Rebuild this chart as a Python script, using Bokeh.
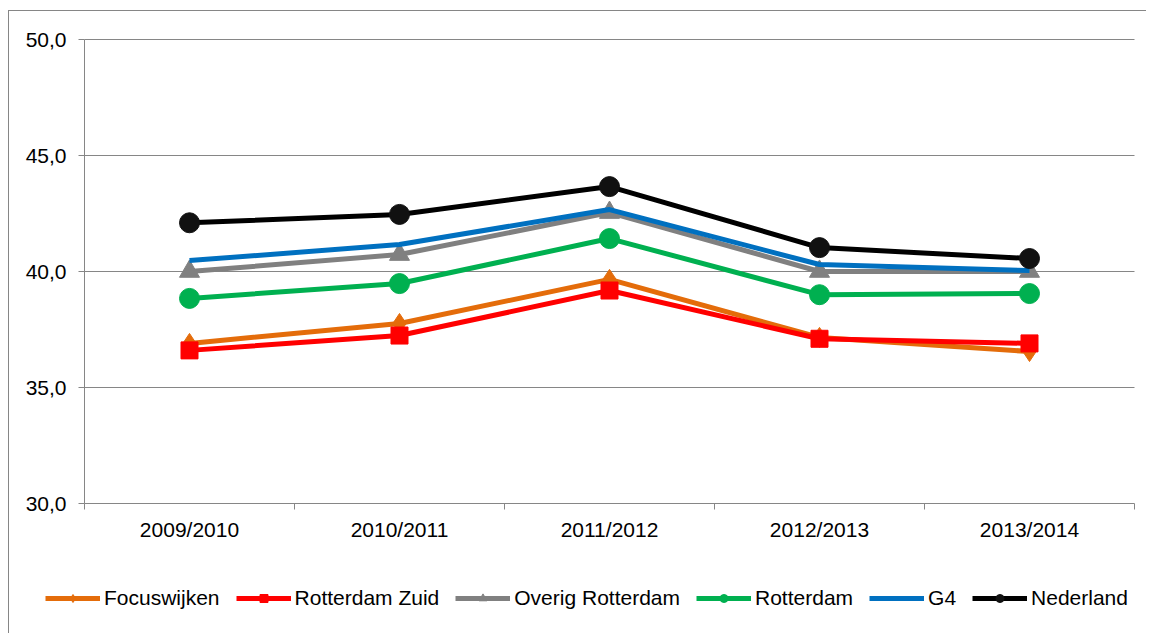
from bokeh.plotting import figure
from bokeh.models import Range1d, FixedTicker, Legend, LegendItem, LinearAxis
from bokeh.embed import file_html
from bokeh.resources import INLINE

categories = ["2009/2010", "2010/2011", "2011/2012", "2012/2013", "2013/2014"]
focuswijken = [36.9, 37.76, 39.66, 37.16, 36.55]
rotterdam_zuid = [36.6, 37.24, 39.18, 37.1, 36.9]
overig_rotterdam = [40.0, 40.73, 42.54, 40.0, 40.0]
rotterdam = [38.84, 39.48, 41.42, 39.0, 39.05]
g4 = [40.47, 41.16, 42.67, 40.3, 40.04]
nederland = [42.1, 42.46, 43.66, 41.03, 40.56]
y_ticks = [30, 35, 40, 45, 50]

FONT = "Liberation Sans"
FS = "21px"
GRID = "#868686"

n = len(categories)
x = [i + 0.5 for i in range(n)]
ymin, ymax = y_ticks[0], y_ticks[-1]

W, H = 1138, 623
# frame covers the whole figure; axis area inside it
px_x = 1050 / n
px_y = 464 / (ymax - ymin)
x_start = 0 - 75 / px_x
x_end = n + 13 / px_x
y_end = ymax + 28 / px_y
y_start = ymin - 131 / px_y

p = figure(width=W, height=H, output_backend="svg", toolbar_location=None,
           x_range=Range1d(x_start, x_end), y_range=Range1d(y_start, y_end),
           min_border=0, x_axis_location=None, y_axis_location=None)
p.styles = {"border-left": "1px solid #868686", "border-top": "1px solid #868686",
            "margin-top": "10px", "margin-left": "8px"}
p.outline_line_color = None
p.background_fill_color = "white"
p.border_fill_color = "white"
p.xgrid.grid_line_color = None
p.ygrid.grid_line_color = None

# horizontal gridlines across the category span
grid_y = y_ticks[1:]
p.segment(x0=[0] * len(grid_y), x1=[n] * len(grid_y), y0=grid_y, y1=grid_y,
          line_color=GRID, line_width=1)

xaxis = LinearAxis(fixed_location=ymin, bounds=(0, n))
xaxis.ticker = FixedTicker(ticks=x, minor_ticks=list(range(n + 1)))
xaxis.major_label_overrides = {xi: c for xi, c in zip(x, categories)}
xaxis.major_tick_out = 0
xaxis.major_tick_in = 0
xaxis.minor_tick_out = 6
xaxis.minor_tick_in = 0
xaxis.minor_tick_line_color = GRID
xaxis.axis_line_color = GRID
xaxis.major_label_standoff = 8

yaxis = LinearAxis(fixed_location=0, bounds=(ymin, ymax))
yaxis.ticker = FixedTicker(ticks=y_ticks)
yaxis.major_label_overrides = {t: f"{t:.1f}".replace(".", ",") for t in y_ticks}
yaxis.major_tick_out = 6
yaxis.major_tick_in = 0
yaxis.minor_tick_out = 0
yaxis.minor_tick_in = 0
yaxis.major_tick_line_color = GRID
yaxis.axis_line_color = GRID
yaxis.major_label_standoff = 12

for ax in (xaxis, yaxis):
    ax.major_label_text_font = FONT
    ax.major_label_text_font_size = FS
    ax.major_label_text_color = "black"

p.add_layout(xaxis, "below")
p.add_layout(yaxis, "left")

series = [
    ("Focuswijken", focuswijken, "#E46C0A", "diamond", 20),
    ("Rotterdam Zuid", rotterdam_zuid, "#FF0000", "square", 17),
    ("Overig Rotterdam", overig_rotterdam, "#808080", "triangle", 20),
    ("Rotterdam", rotterdam, "#00B050", "circle", 20),
    ("G4", g4, "#0070C0", None, 0),
    ("Nederland", nederland, "#000000", "circle", 20),
]

items = []
for name, vals, color, marker, size in series:
    rs = [p.line(x, vals, line_color=color, line_width=5, line_join="round")]
    if marker:
        fill = "#111111" if color == "#000000" else color
        rs.append(p.scatter(x, vals, marker=marker, size=size,
                            fill_color=fill, line_color=fill))
    items.append(LegendItem(label=name, renderers=rs))

legend = Legend(items=items, orientation="horizontal", location=(36, 24),
                glyph_width=55, glyph_height=20, label_standoff=4, spacing=16,
                padding=0, margin=0, border_line_color=None, background_fill_alpha=0,
                label_text_font=FONT, label_text_font_size=FS, label_text_color="black")
p.add_layout(legend, "center")

open("out.html", "w").write(file_html(p, INLINE))
